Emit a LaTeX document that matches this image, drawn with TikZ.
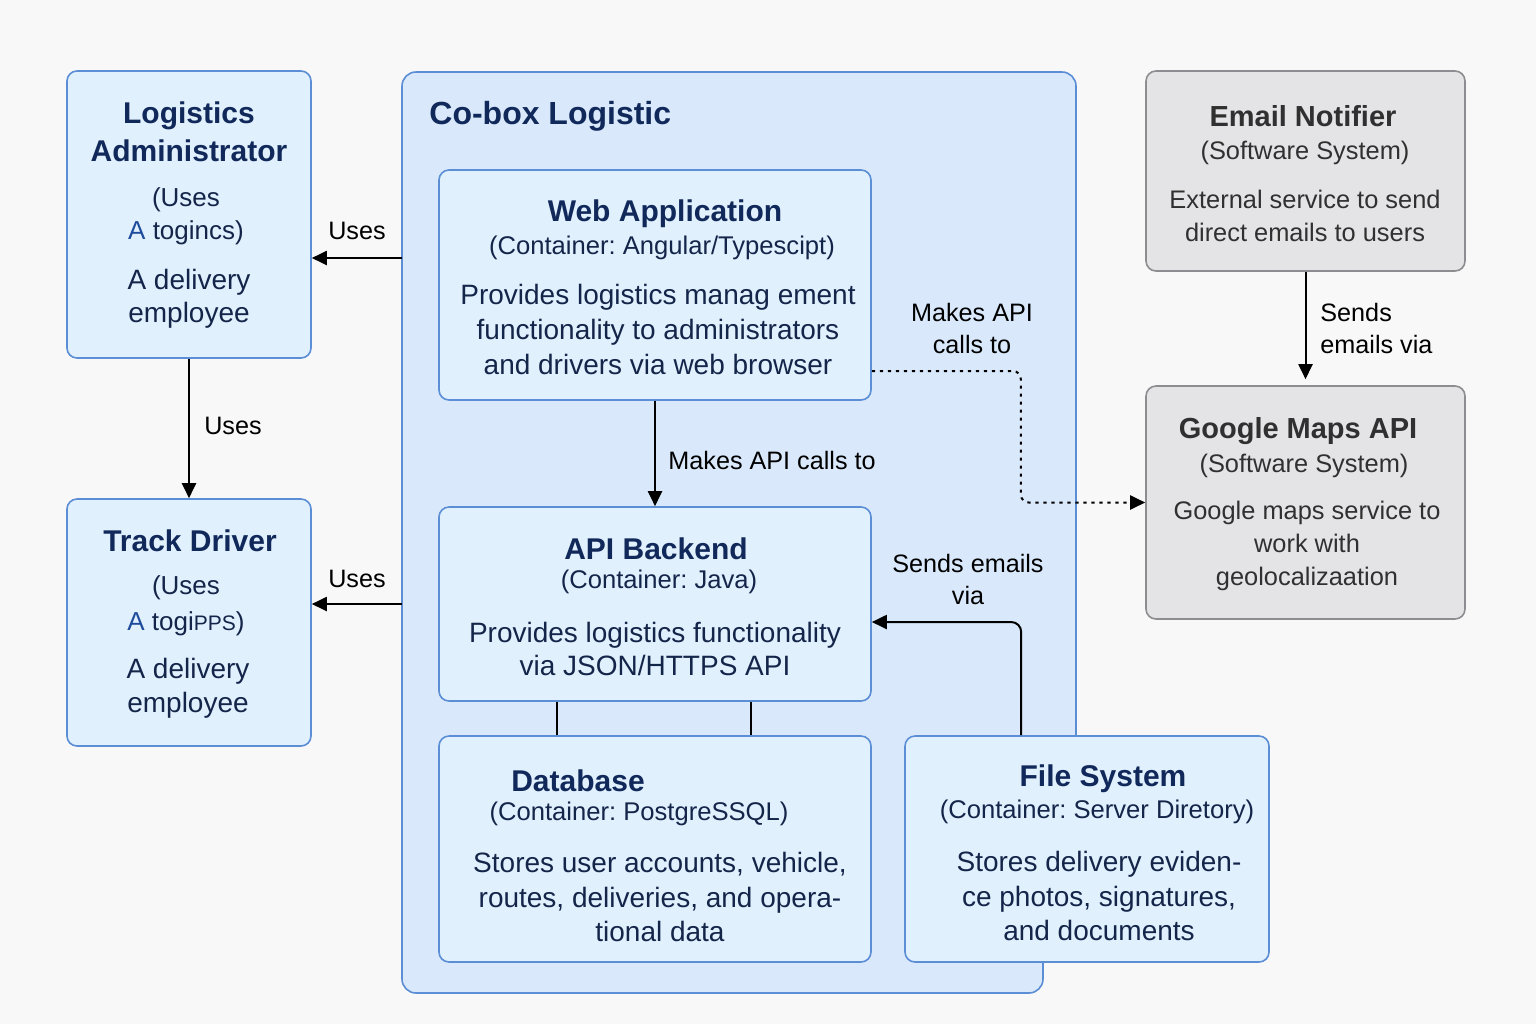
\documentclass[tikz,border=0pt]{standalone}
\usepackage{fontspec}
\setmainfont{Liberation Sans}
\usetikzlibrary{arrows.meta}
\definecolor{boxfill}{HTML}{E1F0FD}
\definecolor{sysfill}{HTML}{D9E9FB}
\definecolor{boxline}{HTML}{5B8ED5}
\definecolor{navy}{HTML}{11295A}
\definecolor{ink}{HTML}{14254A}
\definecolor{extfill}{HTML}{E4E4E6}
\definecolor{extline}{HTML}{8D8D91}
\definecolor{extink}{HTML}{303030}
\definecolor{bgcol}{HTML}{F8F8F8}
\definecolor{accent}{HTML}{1E4C9C}
\frenchspacing
\begin{document}
\begin{tikzpicture}[x=0.5pt,y=-0.5pt,
                    box/.style={draw=boxline,fill=boxfill,line width=0.8pt,rounded corners=5pt,inner sep=0pt},
                    ext/.style={draw=extline,fill=extfill,line width=0.8pt,rounded corners=5pt,inner sep=0pt},
                    title/.style={font=\fontsize{15}{19}\selectfont\bfseries,text=navy,align=center},
                    sub/.style={font=\fontsize{12.8}{16}\selectfont,text=ink,align=center},
                    body/.style={font=\fontsize{14}{17}\selectfont,text=ink,align=center},
                    extt/.style={font=\fontsize{14.5}{18}\selectfont\bfseries,text=extink,align=center},
                    extb/.style={font=\fontsize{12.7}{16.5}\selectfont,text=extink,align=center},
                    lbl/.style={font=\fontsize{12.6}{16}\selectfont,align=center},
                    arr/.style={-{Triangle[length=7.5pt,width=7pt]},line width=1pt}]
                    \useasboundingbox (0,0) rectangle (1536,1024);
                    \fill[bgcol] (0,0) rectangle (1536,1024);
                    
                    \draw[draw=boxline,fill=sysfill,line width=0.8pt,rounded corners=7pt] (402,72) -- (1076,72) -- (1076,850) -- (1043,850) -- (1043,993) -- (402,993) -- cycle;
                    \node[title,anchor=west,inner sep=0pt,font=\fontsize{16}{19}\selectfont\bfseries] (sys-t) at (429,116) {Co-box Logistic};
                    
                    \node[box,minimum width=122pt,minimum height=143.5pt] (admin) at (189,214.5) {};
                    \node[title] (admin-t) at (189,132) {Logistics\\Administrator};
                    \node[sub,font=\fontsize{13}{16.5}\selectfont] (admin-s) at (186,216) {(Uses\\{\color{accent}A} togincs)};
                    \node[body,font=\fontsize{14}{16.5}\selectfont] (admin-b) at (189,298.5) {A delivery\\employee};
                    
                    \node[box,minimum width=122pt,minimum height=123.5pt] (driver) at (189,622.5) {};
                    \node[title] (driver-t) at (190,541) {Track Driver};
                    \node[sub,font=\fontsize{13}{18}\selectfont] (driver-s) at (186,606) {(Uses\\{\color{accent}A} togi{\fontsize{10.5}{12}\selectfont PPS})};
                    \node[body,font=\fontsize{14}{17}\selectfont] (driver-b) at (188,688) {A delivery\\employee};
                    
                    \node[box,minimum width=216pt,minimum height=115pt] (web) at (655,285) {};
                    \node[title] (web-t) at (665,214) {Web Application};
                    \node[sub] (web-s) at (662,248) {(Container: Angular/Typescipt)};
                    \node[body,font=\fontsize{14}{17.5}\selectfont] (web-b) at (658,329) {Provides logistics manag ement\\functionality to administrators\\and drivers via web browser};
                    
                    \node[box,minimum width=216pt,minimum height=97pt] (api) at (655,604) {};
                    \node[title] (api-t) at (656,549) {API Backend};
                    \node[sub] (api-s) at (659,582) {(Container: Java)};
                    \node[body,font=\fontsize{14}{16.5}\selectfont] (api-b) at (655,648.5) {Provides logistics functionality\\via JSON/HTTPS API};
                    
                    \node[box,minimum width=216pt,minimum height=113pt] (db) at (655,849) {};
                    \node[title] (db-t) at (578,781) {Database};
                    \node[sub] (db-s) at (639,814) {(Container: PostgreSSQL)};
                    \node[body,font=\fontsize{14}{17.25}\selectfont] (db-b) at (660,897) {Stores user accounts, vehicle,\\routes, deliveries, and opera-\\tional data};
                    
                    \node[box,minimum width=182pt,minimum height=113pt] (fs) at (1087,849) {};
                    \node[title] (fs-t) at (1103,779) {File System};
                    \node[sub] (fs-s) at (1097,812) {(Container: Server Diretory)};
                    \node[body,font=\fontsize{14}{17.25}\selectfont] (fs-b) at (1099,896) {Stores delivery eviden-\\ce photos, signatures,\\and documents};
                    
                    \node[ext,minimum width=159.5pt,minimum height=100pt] (email) at (1305.5,171) {};
                    \node[extt] (email-t) at (1303,116) {Email Notifier};
                    \node[extb] (email-s) at (1305,153) {(Software System)};
                    \node[extb] (email-b) at (1305,216) {External service to send\\direct emails to users};
                    
                    \node[ext,minimum width=159.5pt,minimum height=116.5pt] (gmaps) at (1305.5,502.5) {};
                    \node[extt] (gmaps-t) at (1298,431) {Google Maps API};
                    \node[extb] (gmaps-s) at (1304,466) {(Software System)};
                    \node[extb] (gmaps-b) at (1307,546) {Google maps service to\\work with\\geolocalizaation};
                    
                    \coordinate (useA) at (402,258);
                    \coordinate (useD) at (402,604);
                    \draw[arr] (useA) -- (useA -| admin.east);
                    \node[lbl] (useA-l) at (357,231) {Uses};
                    \draw[arr] (useD) -- (useD -| driver.east);
                    \node[lbl] (useD-l) at (357,579) {Uses};
                    \draw[arr] (admin.south) -- (driver.north);
                    \node[lbl] (drv-l) at (233,426) {Uses};
                    
                    \draw[arr] (web.south) -- (api.north);
                    \node[lbl,anchor=west,inner sep=0pt] (call-l) at (668,460) {Makes API calls to};
                    \draw[arr,dash pattern=on 1.6pt off 2.4pt,rounded corners=4pt] ([yshift=-43pt]web.east) -- ++(74.5pt,0) |- (gmaps.west);
                    \node[lbl] (maps-l) at (972,328) {Makes API\\calls to};
                    
                    \draw[line width=1pt] ([xshift=59.5pt]api.south west) -- ([xshift=59.5pt]db.north west);
                    \draw[line width=1pt] ([xshift=156.5pt]api.south west) -- ([xshift=156.5pt]db.north west);
                    
                    \draw[arr,rounded corners=5pt] ([xshift=58.5pt]fs.north west) |- ([yshift=-9pt]api.east);
                    \node[lbl] (fs-l) at (968,579) {Sends emails\\via};
                    
                    \draw[arr] (email.south) -- ([yshift=3pt]gmaps.north);
                    \node[lbl,align=left,anchor=west,inner sep=0pt] (mail-l) at (1320,328) {Sends\\emails via};
                \end{tikzpicture}
\end{document}
